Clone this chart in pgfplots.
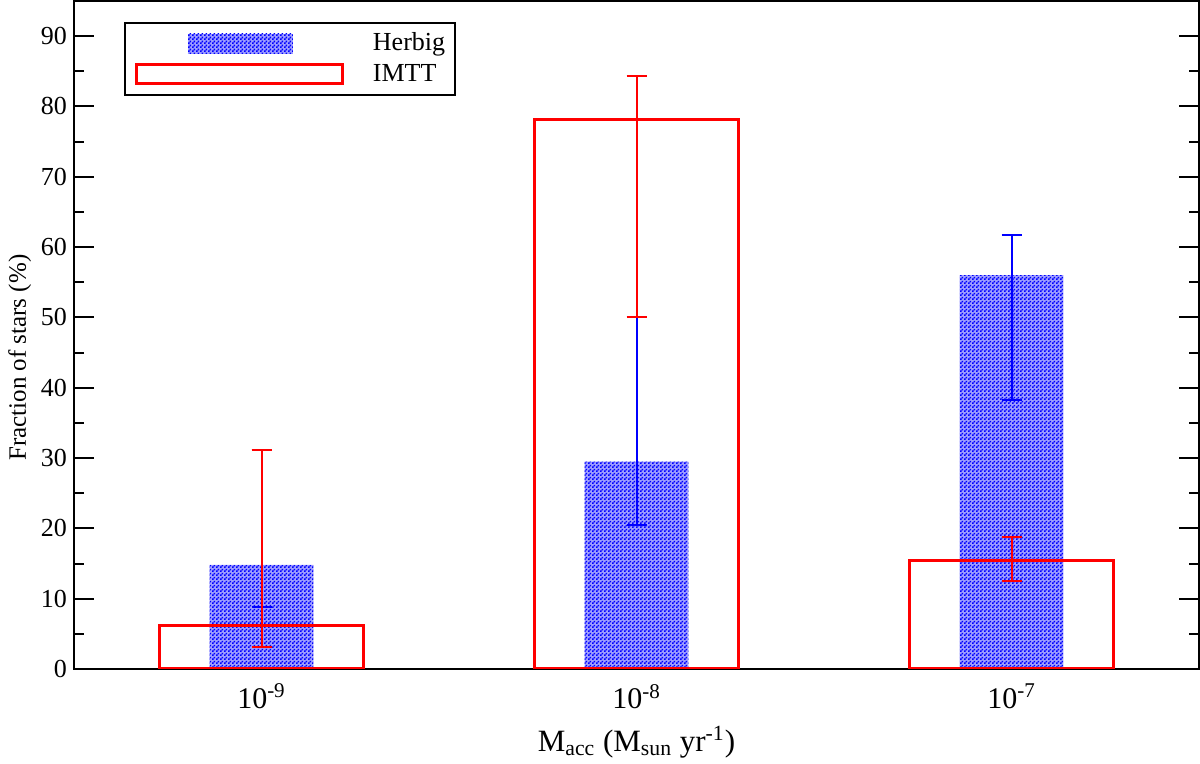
\documentclass[border=0pt]{standalone}
\usepackage{fontspec}
\setmainfont{Liberation Serif}
\usepackage{pgfplots}
\pgfplotsset{compat=1.18}
\usetikzlibrary{patterns,patterns.meta,calc}

\pgfdeclarepattern{
  name=checker, type=uncolored,
  bottom left={\pgfpoint{0pt}{0pt}},
  top right={\pgfpoint{2pt}{2pt}},
  tile size={\pgfpoint{2pt}{2pt}},
  code={
    \pgfpathrectangle{\pgfpoint{0pt}{0pt}}{\pgfpoint{1pt}{1pt}}
    \pgfpathrectangle{\pgfpoint{1pt}{1pt}}{\pgfpoint{1pt}{1pt}}
    \pgfusepath{fill}
  }
}

\pgfplotstableread{
x  y     ep    em
0  14.8  16.4  6.0
1  29.5  20.5  9.0
2  56.0  5.7   17.8
}\herbig

\pgfplotstableread{
x  y     ep    em
0  6.2   25.0  3.1
1  78.1  6.2   28.1
2  15.5  3.25  3.0
}\imtt

\begin{document}
\begin{tikzpicture}[font=\fontsize{13}{15.6}\selectfont]
\begin{axis}[
  scale only axis,
  width=562.5pt, height=334pt,
  xmin=-0.5, xmax=2.5,
  ymin=0, ymax=95,
  xtick={0,1,2},
  xticklabels={10\textsuperscript{-9},10\textsuperscript{-8},10\textsuperscript{-7}},
  xticklabel style={yshift=-4pt, font=\fontsize{15}{18}\selectfont},
  x tick style={draw=none},
  ytick={0,10,...,90},
  minor ytick={5,15,...,85},
  ytick pos=both,
  tick align=inside,
  major tick length=10pt,
  minor tick length=5pt,
  every tick/.style={black, line width=1pt},
  axis line style={line width=1pt},
  /pgf/number format/assume math mode=true,
  xlabel={M\textsubscript{acc} (M\textsubscript{sun} yr\textsuperscript{-1})},
  xlabel style={yshift=-2pt, font=\fontsize{15.5}{18}\selectfont},
  ylabel={Fraction of stars (\%)},
  ylabel style={at={(ticklabel cs:0.466)}, yshift=-2pt, font=\fontsize{12.5}{15}\selectfont},
  legend style={
    at={(0.0444,0.9686)}, anchor=north west,
    draw=black, line width=1pt,
    inner xsep=5pt, inner ysep=4.5pt,
    row sep=3.25pt, column sep=9pt,
    cells={anchor=west},
    nodes={inner xsep=0pt, inner ysep=0pt, text height=9.5pt, text depth=2.5pt},
  },
]
\addplot[ybar, bar width=0.277, bar shift=0pt, draw=none,
  preaction={fill=blue!38},
  pattern=checker, pattern color=blue,
  legend image code/.code={
    \fill[blue!38] (26.5pt,-5pt) rectangle (79pt,5pt);
    \path[pattern=checker, pattern color=blue] (26.5pt,-5pt) rectangle (79pt,5pt);
    \pgfpathmoveto{\pgfpoint{0pt}{0pt}}\pgfpathlineto{\pgfpoint{110pt}{0pt}}\pgfusepath{}
  },
  error bars/.cd, y dir=both, y explicit,
  error bar style={blue, line width=1pt},
  error mark options={rotate=90, mark size=5pt, blue, line width=1pt},
] table[x=x, y=y, y error plus=ep, y error minus=em] {\herbig};
\addlegendentry{Herbig}

\addplot[ybar, bar width=0.546, bar shift=0pt, draw=red, fill=none, line width=1.5pt,
  legend image code/.code={
    \draw[red, line width=1.5pt, fill=none] (1pt,-4.75pt) rectangle (104pt,4.75pt);
    \pgfpathmoveto{\pgfpoint{0pt}{0pt}}\pgfpathlineto{\pgfpoint{110pt}{0pt}}\pgfusepath{}
  },
  error bars/.cd, y dir=both, y explicit,
  error bar style={red, line width=1pt},
  error mark options={rotate=90, mark size=5pt, red, line width=1pt},
] table[x=x, y=y, y error plus=ep, y error minus=em] {\imtt};
\addlegendentry{IMTT}
\end{axis}
\pgfresetboundingbox
\path ($(current axis.south west)+(-37pt,-47.5pt)$) rectangle ($(current axis.north east)+(0.5pt,0.5pt)$);
\end{tikzpicture}
\end{document}
